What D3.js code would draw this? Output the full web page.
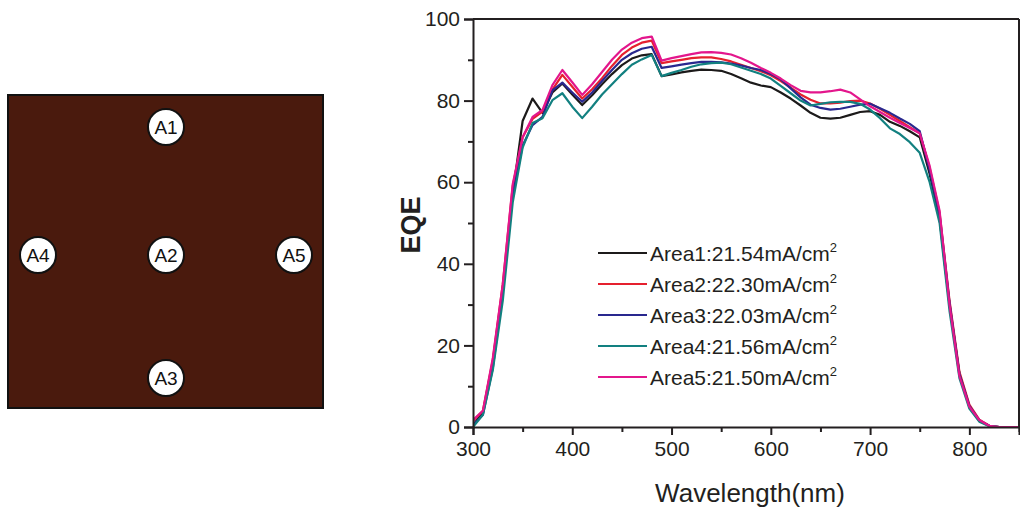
<!DOCTYPE html>
<html>
<head>
<meta charset="utf-8">
<script src="https://cdn.jsdelivr.net/npm/d3@7"></script>
<style>
  html, body { margin: 0; padding: 0; background: #fff; }
  svg { display: block; font-family: "Liberation Sans", Arial, sans-serif; }
</style>
</head>
<body>
<svg id="chart" width="1020" height="511"></svg>
<script>
// ---------- data ----------
const wavelengths = d3.range(300, 851, 10);
const seriesNames = ["Area1", "Area2", "Area3", "Area4", "Area5"];
const seriesCurrents = ["21.54", "22.30", "22.03", "21.56", "21.50"];
const seriesColors = ["#1c1a1a", "#e5202e", "#29288e", "#128080", "#e3168c"];

const area1 = [0.5,3.5,16,34,57,75,80.5,77,82,84.2,81.5,78.9,81.3,84,86.5,88.7,90.3,91.1,91.4,86,86.4,86.9,87.3,87.6,87.5,87.3,86.5,85.5,84.4,83.7,83.3,82,80.5,78.8,77,75.8,75.6,75.8,76.5,77.2,77.4,76.5,74.8,73.8,72.5,71,62,51,30,13,5,1.5,0.3,0,0,0];
const area2 = [1.5,4,16.5,35,59,71,75.5,77.3,82.7,86.3,83.4,80.5,82.8,85.5,88.5,91.2,93,94.2,94.7,89.2,89.6,90,90.4,90.6,90.6,90.2,89.6,88.8,88,87.2,86.2,84.8,83.2,81.5,80.2,79.3,79.3,79.5,79.9,80,79.3,78,76.5,75,73.5,72,63.5,52.5,31,13.5,5.5,1.8,0.3,0,0,0];
const area3 = [0.5,3,14.5,33,57,69,74,76,82.5,84.4,82,79.7,82,84.8,87.5,90,91.6,92.7,93.2,88,88.4,88.8,89.2,89.5,89.5,89.4,89.1,88.6,88,87.5,86.5,85.2,83,80.8,79,78.2,77.8,78,78.5,79,79.2,78.1,77,75.6,74.3,72.5,63,52,30.5,13,5.2,1.6,0.3,0,0,0];
const area4 = [0,3,14,31,55,68.5,74.5,75.7,80.1,81.8,78.5,75.7,78.5,81.5,84,86.5,88.8,90.1,91.2,86,86.8,87.5,88.3,88.9,89.2,89.3,88.9,88.1,87.3,86.5,85.4,83.6,81.8,80,78.8,79.2,79.6,79.7,79.7,79.2,77.8,75.7,73.2,71.8,69.8,67.2,60,50,28.5,12,4.5,1.3,0.2,0,0,0];
const area5 = [1.7,4,17,35,59.5,71,76,77.7,83.8,87.5,84.5,81.4,84,87,90,92.5,94.2,95.3,95.7,89.8,90.4,90.9,91.4,91.8,91.9,91.7,91.3,90.4,89.3,88,86.8,85.4,83.8,82.4,82,82,82.3,82.7,82,80.3,78.6,77.2,75.8,74.5,73.3,72,64,53,30,12.5,5,1.7,0.3,0,0,0];
const seriesValues = [area1, area2, area3, area4, area5];

const xTicks = [300, 400, 500, 600, 700, 800];
const xMinorTicks = [350, 450, 550, 650, 750, 850];
const yTicks = [0, 20, 40, 60, 80, 100];
const yMinorTicks = [10, 30, 50, 70, 90];

const spotLabels = ["A1", "A2", "A3", "A4", "A5"];
const spotCol = [0, 0, 0, -1, 1];
const spotRow = [-1, 0, 1, 0, 0];

// ---------- layout ----------
const svg = d3.select("#chart");
const frameColor = "#231f20";

// Left panel: sample map
const panel = { x: 8, y: 95, w: 315, h: 313 };
svg.append("rect")
  .attr("x", panel.x).attr("y", panel.y)
  .attr("width", panel.w).attr("height", panel.h)
  .attr("fill", "#4a1a0d")
  .attr("stroke", "#111").attr("stroke-width", 2);

const colScale = d3.scaleLinear().domain([-1, 0, 1]).range([38, 166, 294]);
const rowScale = d3.scaleLinear().domain([-1, 0, 1]).range([127, 255, 378]);
const spots = svg.append("g").selectAll("g").data(spotLabels).join("g")
  .attr("transform", (d, i) => `translate(${colScale(spotCol[i])},${rowScale(spotRow[i])})`);
spots.append("circle").attr("r", 18).attr("fill", "#fff")
  .attr("stroke", "#111").attr("stroke-width", 2);
spots.append("text").text(d => d)
  .attr("text-anchor", "middle").attr("dy", "0.36em")
  .attr("font-size", 19).attr("fill", "#111");

// Right panel: EQE chart
const plot = { left: 473, right: 1019, top: 19, bottom: 427 };
const x = d3.scaleLinear().domain([300, 850]).range([plot.left, plot.right]);
const y = d3.scaleLinear().domain([0, 100]).range([plot.bottom, plot.top]);

const line = d3.line()
  .x((d, i) => x(wavelengths[i]))
  .y(d => y(d))
  .curve(d3.curveLinear);

svg.append("clipPath").attr("id", "clip")
  .append("rect").attr("x", plot.left).attr("y", plot.top)
  .attr("width", plot.right - plot.left).attr("height", plot.bottom - plot.top);

const curves = svg.append("g").attr("clip-path", "url(#clip)");
seriesValues.forEach((vals, k) => {
  curves.append("path")
    .datum(vals)
    .attr("d", line)
    .attr("fill", "none")
    .attr("stroke", seriesColors[k])
    .attr("stroke-width", 2.2)
    .attr("stroke-linejoin", "round");
});

// frame (top and right)
svg.append("line").attr("x1", plot.left).attr("x2", plot.right)
  .attr("y1", plot.top).attr("y2", plot.top)
  .attr("stroke", frameColor).attr("stroke-width", 2);
svg.append("line").attr("x1", plot.right).attr("x2", plot.right)
  .attr("y1", plot.top).attr("y2", plot.bottom)
  .attr("stroke", frameColor).attr("stroke-width", 2);

// axes
const xAxis = svg.append("g").attr("transform", `translate(0,${plot.bottom})`)
  .call(d3.axisBottom(x).tickValues(xTicks).tickSize(8).tickPadding(6).tickFormat(d3.format("d")));
const xMinor = svg.append("g").attr("transform", `translate(0,${plot.bottom})`)
  .call(d3.axisBottom(x).tickValues(xMinorTicks).tickSize(5).tickFormat(""));
const yAxis = svg.append("g").attr("transform", `translate(${plot.left},0)`)
  .call(d3.axisLeft(y).tickValues(yTicks).tickSize(9).tickPadding(4).tickFormat(d3.format("d")));
const yMinor = svg.append("g").attr("transform", `translate(${plot.left},0)`)
  .call(d3.axisLeft(y).tickValues(yMinorTicks).tickSize(5).tickFormat(""));

[xAxis, xMinor, yAxis, yMinor].forEach(g => {
  g.select(".domain").attr("stroke", frameColor).attr("stroke-width", 2);
  g.selectAll(".tick line").attr("stroke", frameColor).attr("stroke-width", 2);
  g.selectAll(".tick text").attr("font-size", 21).attr("fill", "#231f20")
    .attr("font-family", "'Liberation Sans', Arial, sans-serif");
});
xMinor.select(".domain").remove();
yMinor.select(".domain").remove();

// axis titles
svg.append("text")
  .attr("x", 750).attr("y", 502)
  .attr("text-anchor", "middle")
  .attr("font-size", 26).attr("fill", "#231f20")
  .text("Wavelength(nm)");
svg.append("text")
  .attr("transform", "translate(420,225) rotate(-90)")
  .attr("text-anchor", "middle")
  .attr("font-size", 27).attr("font-weight", "bold").attr("fill", "#231f20")
  .text("EQE");

// legend
const legendY = d3.scaleLinear().domain([0, 4]).range([253, 377]);
const legend = svg.append("g");
seriesNames.forEach((name, k) => {
  const yy = legendY(k);
  legend.append("line")
    .attr("x1", 598).attr("x2", 647).attr("y1", yy).attr("y2", yy)
    .attr("stroke", seriesColors[k]).attr("stroke-width", 2.2);
  const t = legend.append("text")
    .attr("x", 650).attr("y", yy).attr("dy", "0.36em")
    .attr("font-size", 21).attr("fill", "#231f20");
  t.append("tspan").text(`${name}:${seriesCurrents[k]}mA/cm`);
  t.append("tspan").text("2").attr("font-size", 13).attr("dy", "-0.65em");
});
</script>
</body>
</html>
